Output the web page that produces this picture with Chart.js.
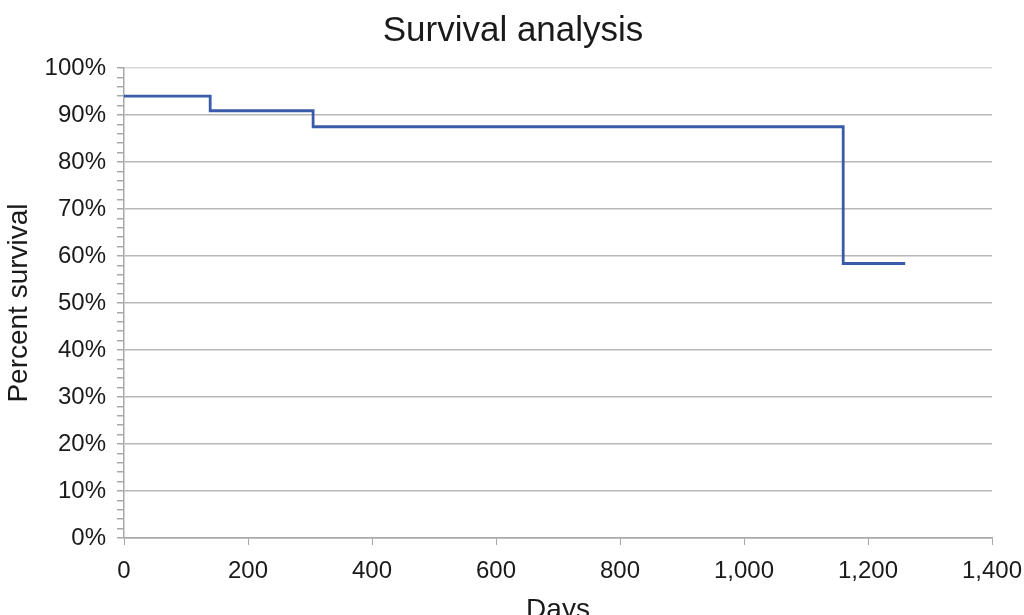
<!DOCTYPE html>
<html>
<head>
<meta charset="utf-8">
<script src="https://cdn.jsdelivr.net/npm/chart.js@4"></script>
<style>
  html, body { margin: 0; padding: 0; background: #fff; overflow: hidden; }
  canvas { display: block; }
</style>
</head>
<body>
<canvas id="c" width="1024" height="615"></canvas>
<script>
const days = [0, 139, 305, 1160, 1260];
const survival = [94.0, 90.9, 87.5, 58.4, 58.4];
const xTicks = [0, 200, 400, 600, 800, 1000, 1200, 1400];
const yMajorStep = 10;
const yMinorStep = 2;

const FONT = '"Liberation Sans", Arial, Helvetica, sans-serif';

new Chart(document.getElementById('c'), {
  type: 'line',
  data: {
    datasets: [{
      label: 'Survival',
      data: days.map((d, i) => ({ x: d, y: survival[i] })),
      stepped: 'before',
      borderColor: '#3a5ba9',
      borderWidth: 2.8,
      pointRadius: 0,
      fill: false
    }]
  },
  options: {
    responsive: false,
    animation: false,
    devicePixelRatio: 1,
    layout: { autoPadding: false, padding: { left: 34, right: 32, top: 0, bottom: 0 } },
    plugins: {
      legend: { display: false },
      tooltip: { enabled: false },
      title: {
        display: true,
        text: 'Survival analysis',
        color: '#1a1a1a',
        font: { family: FONT, size: 35, weight: 'normal' },
        padding: { top: 10, bottom: 16 }
      }
    },
    scales: {
      x: {
        type: 'linear',
        min: 0, max: 1400,
        afterBuildTicks: (s) => { s.ticks = xTicks.map(v => ({ value: v })); },
        afterFit: (s) => { s.height = 615 - 538; s.paddingLeft = 0; s.paddingRight = 0; },
        border: { color: '#a8a8a8', width: 1.5 },
        grid: { drawOnChartArea: false, drawTicks: true, tickLength: 7, tickColor: '#a8a8a8' },
        ticks: {
          color: '#1a1a1a',
          padding: 12,
          maxRotation: 0,
          font: { family: FONT, size: 24 },
          callback: (v) => Number(v).toLocaleString('en-US')
        },
        title: {
          display: true,
          text: 'Days',
          color: '#1a1a1a',
          font: { family: FONT, size: 28 },
          padding: { top: 0, bottom: -12 }
        }
      },
      y: {
        min: 0, max: 100,
        afterFit: (s) => { s.width = 90; s.paddingTop = 0; s.paddingBottom = 0; },
        border: { color: '#a8a8a8', width: 1.5 },
        grid: {
          color: (ctx) => {
            const v = ctx.tick ? ctx.tick.value : 0;
            if (v % yMajorStep !== 0) return 'rgba(0,0,0,0)';
            return v === 100 ? '#d8d8d8' : '#b8b8b8';
          },
          lineWidth: 1.5,
          drawTicks: true,
          tickLength: 7,
          tickColor: '#a8a8a8'
        },
        ticks: {
          stepSize: yMinorStep,
          autoSkip: false,
          color: '#1a1a1a',
          padding: 11,
          font: { family: FONT, size: 24 },
          callback: (v) => (v % yMajorStep === 0 ? v + '%' : '')
        },
        title: {
          display: true,
          text: 'Percent survival',
          color: '#1a1a1a',
          font: { family: FONT, size: 28 },
          padding: { top: -32, bottom: 0 }
        }
      }
    }
  }
});
</script>
</body>
</html>
